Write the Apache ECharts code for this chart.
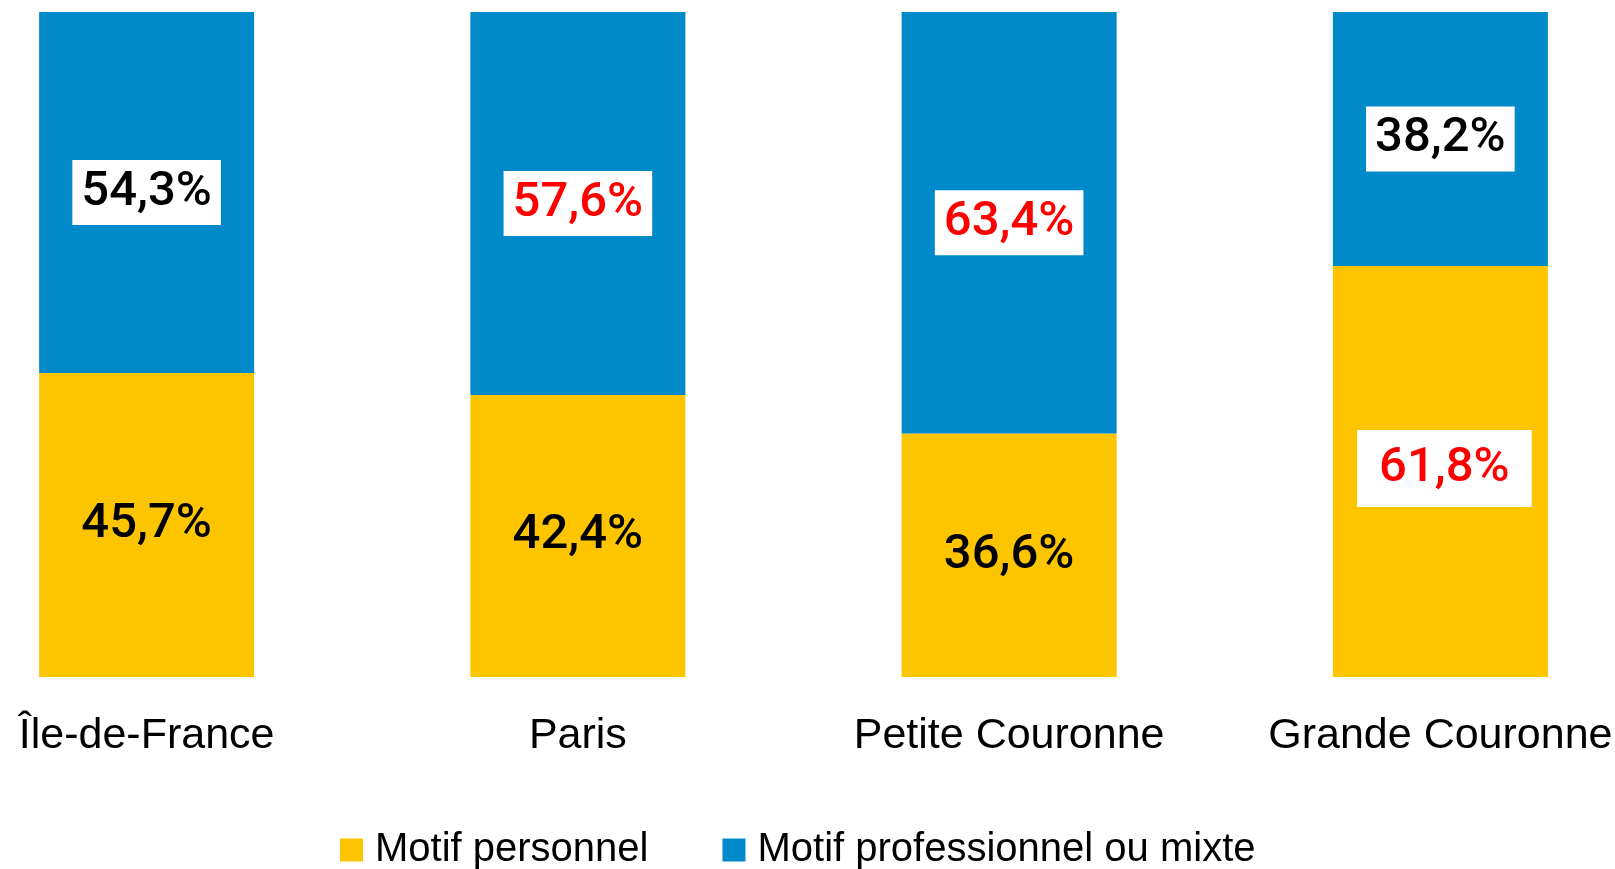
<!DOCTYPE html>
<html>
<head>
<meta charset="utf-8">
<script src="https://cdn.jsdelivr.net/npm/echarts@6/dist/echarts.min.js"></script>
<style>
  html, body { margin: 0; padding: 0; background: #fff; }
  #chart { width: 1615px; height: 869px; }
</style>
</head>
<body>
<div id="chart"></div>
<script>
// zones géographiques
const categories = ['Île-de-France', 'Paris', 'Petite Couronne', 'Grande Couronne']
// part des déplacements (%)
const motifPersonnel = [45.7, 42.4, 36.6, 61.8]
const motifPro = [54.3, 57.6, 63.4, 38.2]
const seriesNames = ['Motif personnel', 'Motif professionnel ou mixte']

const YELLOW = '#FDC500'
const BLUE = '#008ACA'
const RED = '#FF0000'

const fmt = v => v.toFixed(1).replace('.', ',') + '%'

const baseLabel = {
  show: true,
  position: 'inside',
  fontFamily: 'Roboto',
  fontWeight: 500,
  fontSize: 49,
  lineHeight: 49,
  color: '#000',
  formatter: p => fmt(p.value)
}

const boxLabel = (color, pad) => ({
  color: color,
  backgroundColor: '#fff',
  padding: pad
})

// rouge = valeurs mises en avant
const personnelData = motifPersonnel.map((v, i) => {
  if (i === 3) return { value: v, label: { ...boxLabel(RED, [14, 22, 14, 22]), offset: [4, -3] } }
  return { value: v }
})
const proData = motifPro.map((v, i) => {
  const red = i === 1 || i === 2
  return { value: v, label: boxLabel(red ? RED : '#000', [8, 9, 8, 9]) }
})

const chart = echarts.init(document.getElementById('chart'))
chart.setOption({
  animation: false,
  grid: {
    left: -69,
    right: -41,
    top: 12,
    bottom: 192,
    outerBoundsMode: 'none'
  },
  legend: {
    left: 335,
    top: 825,
    itemWidth: 23,
    itemHeight: 23,
    itemGap: 74,
    icon: 'rect',
    textStyle: {
      fontFamily: 'Liberation Sans',
      fontSize: 40,
      color: '#000',
      padding: [0, 0, 0, 7]
    },
    data: seriesNames
  },
  xAxis: {
    type: 'category',
    data: categories,
    axisLine: { show: false },
    axisTick: { show: false },
    axisLabel: {
      margin: 38,
      fontFamily: 'Liberation Sans',
      fontSize: 43,
      color: '#000',
      interval: 0
    }
  },
  yAxis: {
    type: 'value',
    min: 0,
    max: 100,
    show: false
  },
  series: [
    {
      name: seriesNames[0],
      type: 'bar',
      stack: 'total',
      barWidth: 215,
      itemStyle: { color: YELLOW },
      label: baseLabel,
      data: personnelData
    },
    {
      name: seriesNames[1],
      type: 'bar',
      stack: 'total',
      barWidth: 215,
      itemStyle: { color: BLUE },
      label: baseLabel,
      data: proData
    }
  ]
})
</script>
</body>
</html>
